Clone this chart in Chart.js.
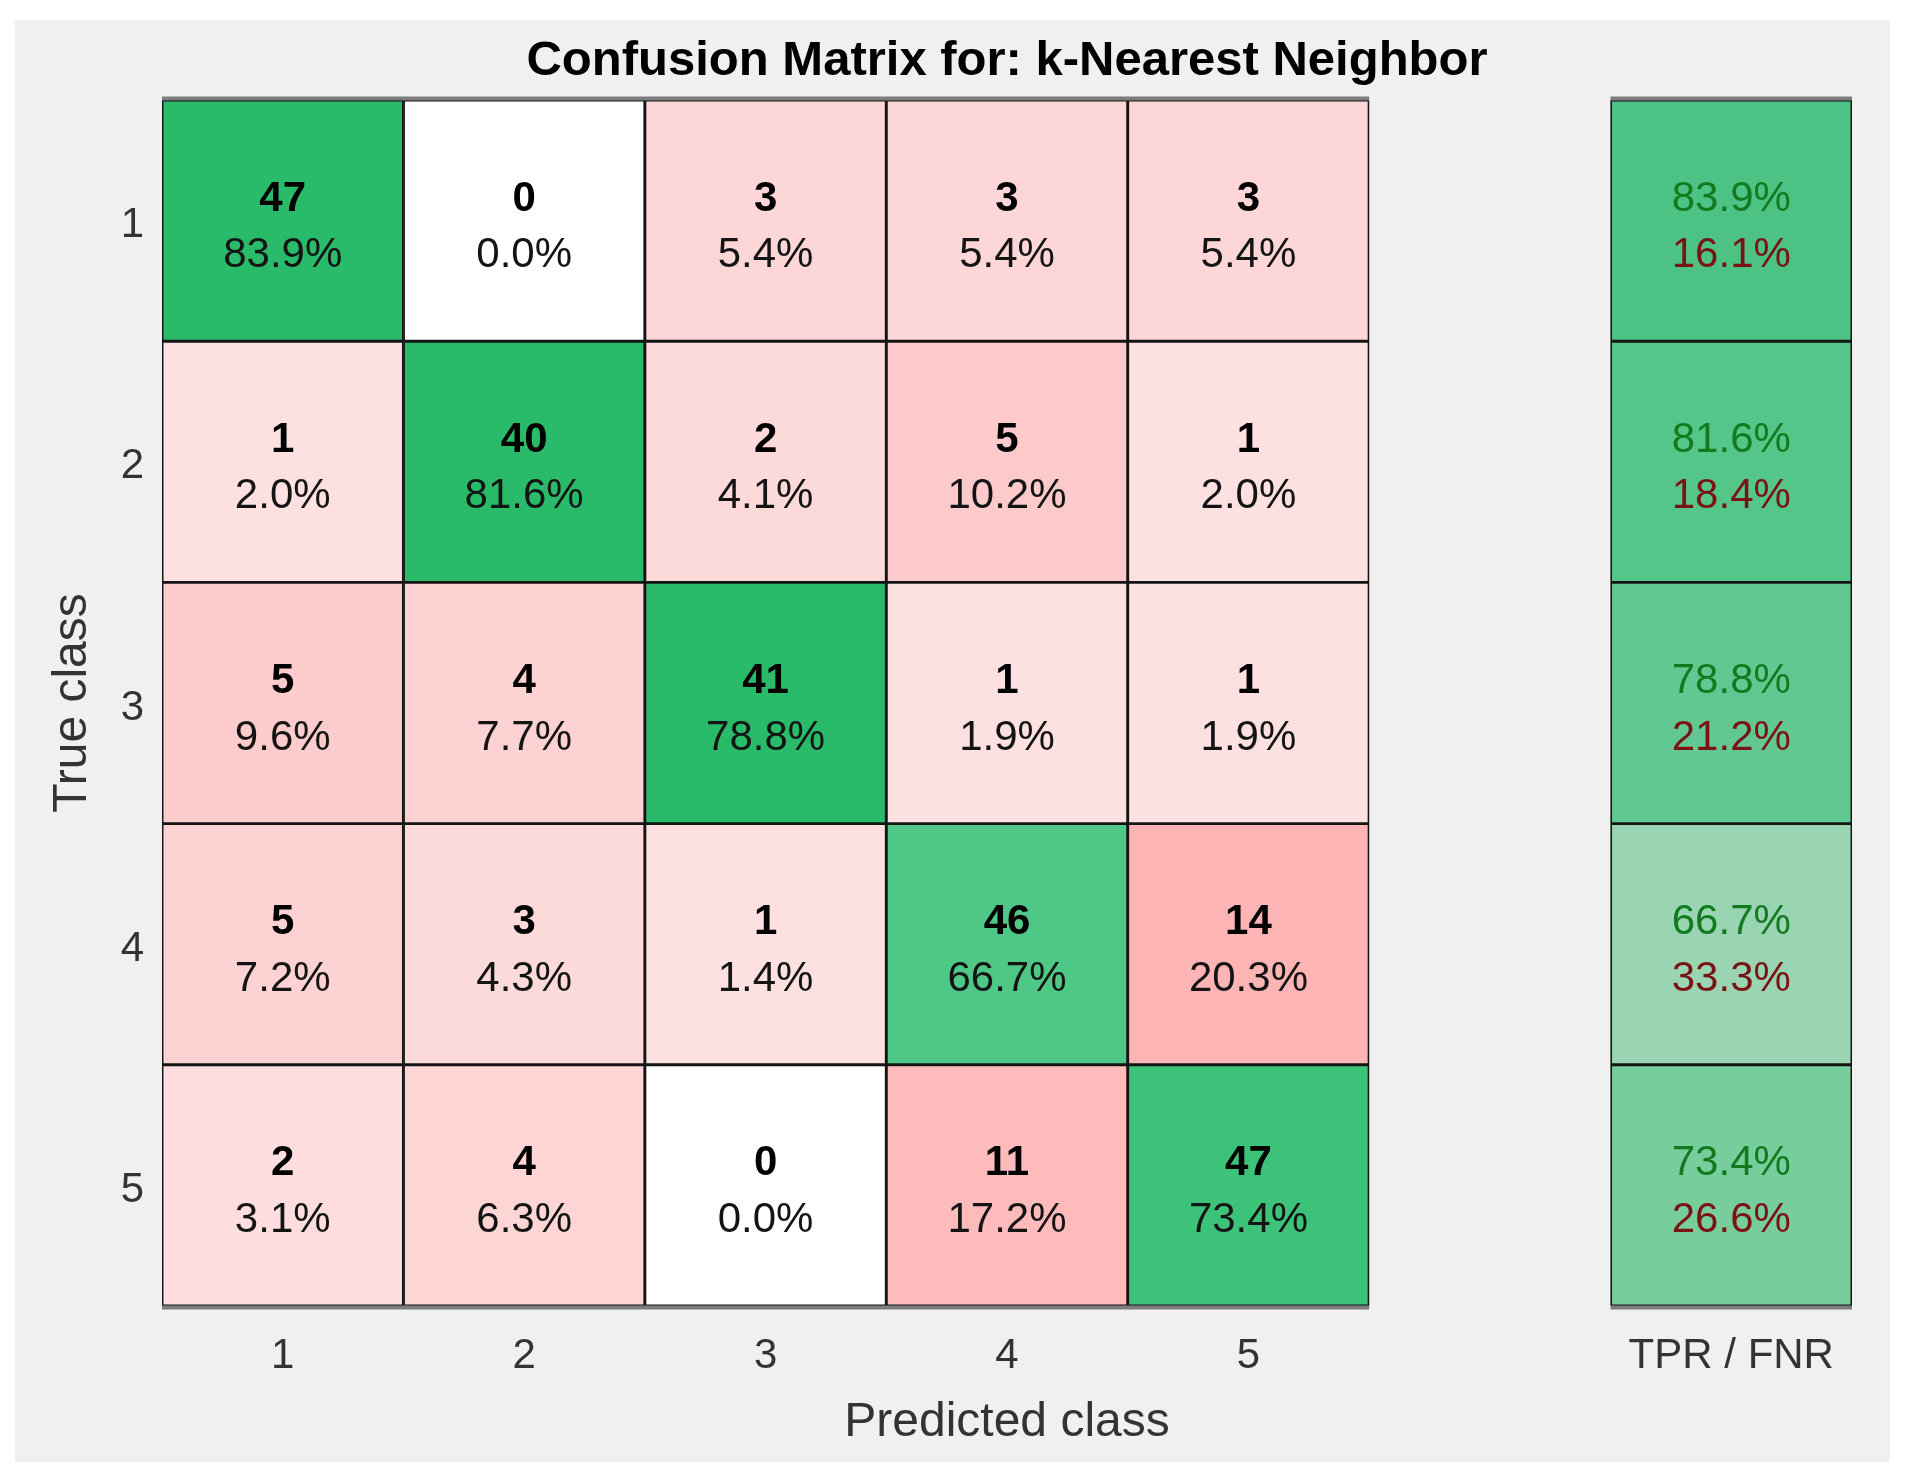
<!DOCTYPE html>
<html>
<head>
<meta charset="utf-8">
<script src="https://cdn.jsdelivr.net/npm/chart.js@4.4.1/dist/chart.umd.min.js"></script>
<style>
  html, body { margin: 0; padding: 0; background: #ffffff; }
  #wrap { position: absolute; left: 0; top: 0; width: 1906px; height: 1484px; }
</style>
</head>
<body>
<div id="wrap"><canvas id="c" width="1906" height="1484"></canvas></div>
<script>
// ---- data ----
const classes = ['1', '2', '3', '4', '5'];
const xTickLabels = ['1', '2', '3', '4', '5', '', 'TPR / FNR'];
const counts = [
  [47, 0, 3, 3, 3],
  [1, 40, 2, 5, 1],
  [5, 4, 41, 1, 1],
  [5, 3, 1, 46, 14],
  [2, 4, 0, 11, 47]
];
const rowPercents = [
  [83.9, 0.0, 5.4, 5.4, 5.4],
  [2.0, 81.6, 4.1, 10.2, 2.0],
  [9.6, 7.7, 78.8, 1.9, 1.9],
  [7.2, 4.3, 1.4, 66.7, 20.3],
  [3.1, 6.3, 0.0, 17.2, 73.4]
];
const tpr = [83.9, 81.6, 78.8, 66.7, 73.4];
const fnr = [16.1, 18.4, 21.2, 33.3, 26.6];

// ---- styles ----
const cellColors = [
  ['#29BB6A', '#FFFFFF', '#FDD7D7', '#FDD7D7', '#FDD7D7'],
  ['#FDE0E0', '#29BB6A', '#FDDADA', '#FCCACA', '#FDE0E0'],
  ['#FCCBCB', '#FDD2D2', '#29BB6A', '#FDE1E1', '#FDE1E1'],
  ['#FDD2D2', '#FDDADA', '#FDE1E1', '#4FC887', '#FDB4B4'],
  ['#FDDDDD', '#FDD5D5', '#FFFFFF', '#FDBBBB', '#3DC27A']
];
const tprColors = ['#4CC385', '#54C68A', '#62C892', '#99D5B2', '#77CD9C'];
const FONT = '"Liberation Sans", Arial, Helvetica, sans-serif';

const datasets = classes.map((cls, r) => {
  const row = r + 1;
  const data = [];
  const bg = [];
  for (let c = 0; c < xTickLabels.length; c++) {
    if (c < classes.length) {
      data.push([row - 0.5, row + 0.5]);
      bg.push(cellColors[r][c]);
    } else if (c === classes.length + 1) {
      data.push([row - 0.5, row + 0.5]);
      bg.push(tprColors[r]);
    } else {
      data.push(null);
      bg.push('rgba(0,0,0,0)');
    }
  }
  return {
    label: 'True class ' + cls,
    data: data,
    backgroundColor: bg,
    borderColor: '#141414',
    borderWidth: 1.8,
    borderSkipped: false,
    grouped: false,
    barPercentage: 1.0,
    categoryPercentage: 1.0
  };
});

const panelPlugin = {
  id: 'panel',
  beforeDraw(chart) {
    const ctx = chart.ctx;
    ctx.save();
    ctx.fillStyle = '#ffffff';
    ctx.fillRect(0, 0, chart.width, chart.height);
    ctx.fillStyle = '#f0f0f0';
    ctx.fillRect(15, 20, 1875, 1442);
    ctx.restore();
  }
};

const cellTextPlugin = {
  id: 'cellText',
  afterDatasetsDraw(chart) {
    const ctx = chart.ctx;
    ctx.save();
    const firstMeta = chart.getDatasetMeta(0);
    const lastMeta = chart.getDatasetMeta(classes.length - 1);
    const blocks = [[0, classes.length - 1], [classes.length + 1, classes.length + 1]];
    ctx.strokeStyle = '#7d7d7d';
    ctx.lineWidth = 4;
    blocks.forEach(([a, b]) => {
      const ea = firstMeta.data[a], eb = firstMeta.data[b];
      const x0 = ea.x - ea.width / 2, x1 = eb.x + eb.width / 2;
      const top = Math.min(ea.y, ea.base);
      const la = lastMeta.data[a];
      const bottom = Math.max(la.y, la.base);
      ctx.beginPath();
      ctx.moveTo(x0, top - 1.5); ctx.lineTo(x1, top - 1.5);
      ctx.moveTo(x0, bottom + 1.5); ctx.lineTo(x1, bottom + 1.5);
      ctx.stroke();
    });

    ctx.textAlign = 'center';
    ctx.textBaseline = 'middle';
    chart.data.datasets.forEach((ds, r) => {
      const meta = chart.getDatasetMeta(r);
      meta.data.forEach((el, c) => {
        if (ds.data[c] == null) return;
        const cx = el.x;
        const cy = (el.y + el.base) / 2;
        if (c < classes.length) {
          ctx.fillStyle = '#000000';
          ctx.font = 'bold 42px ' + FONT;
          ctx.fillText(String(counts[r][c]), cx, cy - 21.5);
          ctx.font = '42px ' + FONT;
          ctx.fillStyle = '#141414';
          ctx.fillText(rowPercents[r][c].toFixed(1) + '%', cx, cy + 35);
        } else {
          ctx.font = '42px ' + FONT;
          ctx.fillStyle = '#137A1F';
          ctx.fillText(tpr[r].toFixed(1) + '%', cx, cy - 21.5);
          ctx.fillStyle = '#7A1414';
          ctx.fillText(fnr[r].toFixed(1) + '%', cx, cy + 35);
        }
      });
    });
    ctx.restore();
  }
};

new Chart(document.getElementById('c'), {
  type: 'bar',
  data: { labels: xTickLabels, datasets: datasets },
  plugins: [panelPlugin, cellTextPlugin],
  options: {
    responsive: false,
    animation: false,
    devicePixelRatio: 1,
    layout: { padding: { left: 0, right: 54, top: 0, bottom: 0 } },
    plugins: {
      legend: { display: false },
      tooltip: { enabled: false },
      title: {
        display: true,
        text: 'Confusion Matrix for: k-Nearest Neighbor',
        fullSize: false,
        color: '#000000',
        font: { family: FONT, size: 49, weight: 'bold', lineHeight: 1.2 },
        padding: { top: 32, bottom: 9.2 }
      }
    },
    scales: {
      x: {
        type: 'category',
        offset: true,
        grid: { display: false, drawTicks: false },
        border: { display: false },
        ticks: {
          color: '#333333',
          padding: 25,
          maxRotation: 0,
          autoSkip: false,
          font: { family: FONT, size: 42, lineHeight: 1.2 }
        },
        title: {
          display: true,
          text: 'Predicted class',
          color: '#333333',
          font: { family: FONT, size: 48, lineHeight: 1.2 },
          padding: { top: 4, bottom: 32 }
        },
        afterFit(scale) { scale.height = 178; }
      },
      y: {
        type: 'linear',
        reverse: true,
        min: 0.5,
        max: 5.5,
        grid: { display: false, drawTicks: false },
        border: { display: false },
        afterBuildTicks(scale) {
          scale.ticks = classes.map((c, i) => ({ value: i + 1 }));
        },
        ticks: {
          color: '#333333',
          padding: 18,
          labelOffset: 5,
          font: { family: FONT, size: 42, lineHeight: 1.2 },
          callback(value) { return classes[value - 1]; }
        },
        title: {
          display: true,
          text: 'True class',
          color: '#333333',
          font: { family: FONT, size: 48, lineHeight: 1.2 },
          padding: { top: 44, bottom: 4 }
        },
        afterFit(scale) { scale.width = 162; }
      }
    }
  }
});
</script>
</body>
</html>
